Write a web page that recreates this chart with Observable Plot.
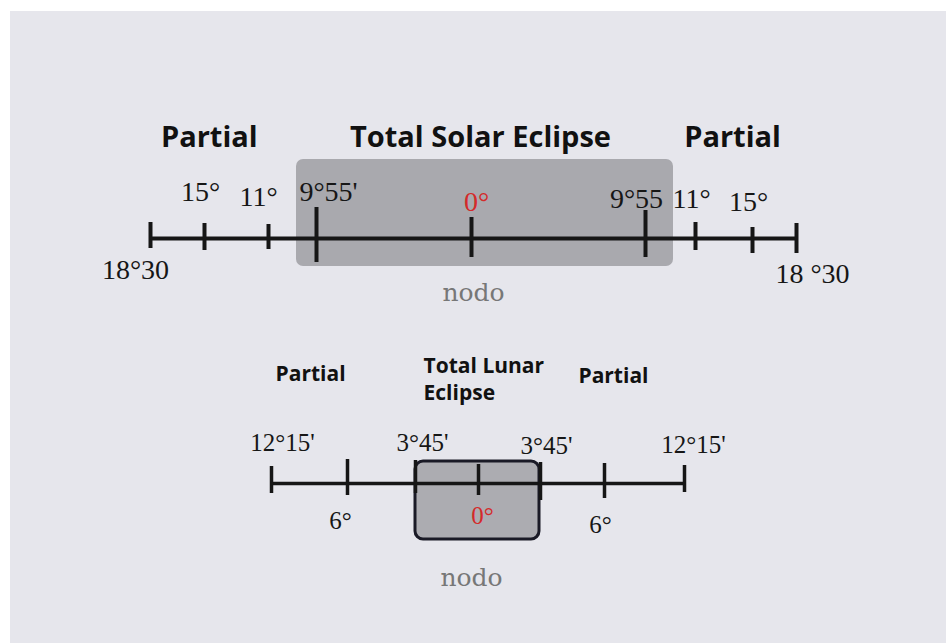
<!DOCTYPE html>
<html>
<head>
<meta charset="utf-8">
<script src="https://cdn.jsdelivr.net/npm/d3@7"></script>
<script src="https://cdn.jsdelivr.net/npm/@observablehq/plot@0.6"></script>
<style>
  html, body { margin: 0; padding: 0; background: #ffffff; }
  #wrap { position: relative; width: 946px; height: 643px; overflow: hidden; }
  #panel { position: absolute; left: 10px; top: 11px; right: 0; bottom: 0; background: #e6e6ec; }
  #solar { position: absolute; left: 0; top: 0; }
  #lunar { position: absolute; left: 0; top: 330px; }
</style>
</head>
<body>
<div id="wrap">
  <div id="panel"></div>
  <div id="solar"></div>
  <div id="lunar"></div>
</div>
<script>
// ---------- DATA ----------
// Solar eclipse limits (degrees from the node)
const solarTicks = [-18.5, -15, -11, -9.92, 0, 9.92, 11, 15, 18.5];
const solarTickLabels = ["18°30", "15°", "11°", "9°55'", "0°", "9°55", "11°", "15°", "18 °30"];
const solarTotalZone = [-9.92, 9.92];
const solarHeaders = ["Partial", "Total Solar Eclipse", "Partial"];
const solarHeaderAt = [-14.7, 0, 13.6];

// Lunar eclipse limits (degrees from the node)
const lunarTicks = [-12.25, -6, -3.75, 0, 3.75, 6, 12.25];
const lunarTickLabels = ["12°15'", "6°", "3°45'", "0°", "3°45'", "6°", "12°15'"];
const lunarTotalZone = [-3.75, 3.75];
const lunarHeaders = ["Partial", "Total Lunar\nEclipse", "Partial"];
const lunarHeaderAt = [-9.04, -3.27, 6.7];

const nodeLabel = "nodo";

// ---------- LAYOUT / STYLE ----------
const solarRange = [150, 204, 268, 316, 471, 645, 695, 752, 796]; // schematic (non-linear) axis
const solarTickUp   = [16, 15, 14, 31, 21, 28, 16, 11, 15];
const solarTickDown = [10, 12, 11, 24, 19, 19, 12, 15, 15];
const solarLabelDx  = [-15, -4, -10, 12, 5, -9, -4, -4, 16];
const solarLabelDy  = [40, -38, -33, -38, -28, -31, -31, -28, 44];

const lunarRange = [271, 347, 415, 478, 540, 604, 684];
const lunarTickUp   = [17, 24, 23, 19, 21, 20, 18];
const lunarTickDown = [10, 12, 10, 12, 17, 15, 9];
const lunarLabelDx  = [11, -7, 7, 4, 6, -4, 9];
const lunarLabelDy  = [-33, 45, -33, 40, -30, 49, -31];

const INK = "#161616";
const RED = "#d42a2a";

function panel(cfg) {
  const T = cfg.ticks.map((v, i) => ({
    v, label: cfg.labels[i], up: cfg.up[i], down: cfg.down[i], dx: cfg.dx[i], dy: cfg.dy[i]
  }));
  const H = cfg.headers.map((h, i) => ({ text: h, at: cfg.headerAt[i] }));
  const marks = [];
  // total eclipse zone
  marks.push(Plot.rect([cfg.zone], {
    x1: d => d[0], x2: d => d[1], y1: cfg.zoneTop, y2: cfg.zoneBottom,
    insetLeft: cfg.zoneInsetL, insetRight: cfg.zoneInsetR,
    rx: cfg.zoneRx, fill: cfg.zoneFill,
    stroke: cfg.zoneStroke || "none", strokeWidth: cfg.zoneStrokeWidth || 0
  }));
  // main line
  marks.push(Plot.ruleY([0], {
    x1: cfg.ticks[0], x2: cfg.ticks[cfg.ticks.length - 1],
    stroke: INK, strokeWidth: cfg.lineWidth
  }));
  // ticks
  marks.push(Plot.ruleX(T, {
    x: "v", y1: d => -d.up, y2: d => d.down,
    stroke: INK, strokeWidth: cfg.tickWidth
  }));
  // tick labels
  T.forEach(d => {
    marks.push(Plot.text([d], {
      x: "v", y: "dy", text: "label", dx: d.dx,
      lineAnchor: "bottom", textAnchor: "middle",
      fontFamily: "Liberation Serif", fontSize: cfg.labelSize,
      fill: d.v === 0 ? RED : INK
    }));
  });
  // headers
  H.forEach((h, i) => {
    marks.push(Plot.text([h], {
      x: "at", y: cfg.headerDy[i], text: "text", dx: cfg.headerDx[i],
      lineAnchor: "bottom", textAnchor: cfg.headerAnchor[i],
      lineHeight: cfg.headerLineHeight,
      fontFamily: "Open Sans", fontWeight: 700, fontSize: cfg.headerSize,
      fill: "#111111"
    }));
  });
  // node label
  marks.push(Plot.text([nodeLabel], {
    x: 0, y: cfg.nodoDy, text: d => d, dx: cfg.nodoDx,
    lineAnchor: "bottom", textAnchor: "middle",
    fontFamily: "DejaVu Serif", fontSize: 25, fill: "#777777"
  }));

  return Plot.plot({
    width: 946, height: cfg.height, margin: 0,
    style: "background: transparent; overflow: visible;",
    x: { type: "linear", domain: cfg.ticks, range: cfg.range, axis: null },
    y: { type: "linear", domain: [-cfg.lineY, cfg.height - cfg.lineY], range: [0, cfg.height], axis: null },
    marks
  });
}

document.getElementById("solar").appendChild(panel({
  ticks: solarTicks, labels: solarTickLabels, range: solarRange,
  up: solarTickUp, down: solarTickDown, dx: solarLabelDx, dy: solarLabelDy,
  height: 330, lineY: 238, lineWidth: 4, tickWidth: 4, labelSize: 28,
  zone: solarTotalZone, zoneTop: -79, zoneBottom: 28, zoneInsetL: -20, zoneInsetR: -28,
  zoneRx: 7, zoneFill: "#a9a9ae",
  headers: solarHeaders, headerAt: solarHeaderAt,
  headerDy: [-92, -92, -92], headerDx: [0, 9, 0], headerAnchor: ["middle", "middle", "middle"],
  headerSize: 29, headerLineHeight: 1.2,
  nodoDy: 62, nodoDx: 2
}));

document.getElementById("lunar").appendChild(panel({
  ticks: lunarTicks, labels: lunarTickLabels, range: lunarRange,
  up: lunarTickUp, down: lunarTickDown, dx: lunarLabelDx, dy: lunarLabelDy,
  height: 313, lineY: 153, lineWidth: 3.5, tickWidth: 3.5, labelSize: 25,
  zone: lunarTotalZone, zoneTop: -22, zoneBottom: 56, zoneInsetL: 0, zoneInsetR: 1,
  zoneRx: 8, zoneFill: "#acacb1", zoneStroke: "#1a1a26", zoneStrokeWidth: 3,
  headers: lunarHeaders, headerAt: lunarHeaderAt,
  headerDy: [-103, -84, -101], headerDx: [0, 0, 0], headerAnchor: ["middle", "start", "middle"],
  headerSize: 21, headerLineHeight: 1.24,
  nodoDy: 102, nodoDx: -7
}));
</script>
</body>
</html>
